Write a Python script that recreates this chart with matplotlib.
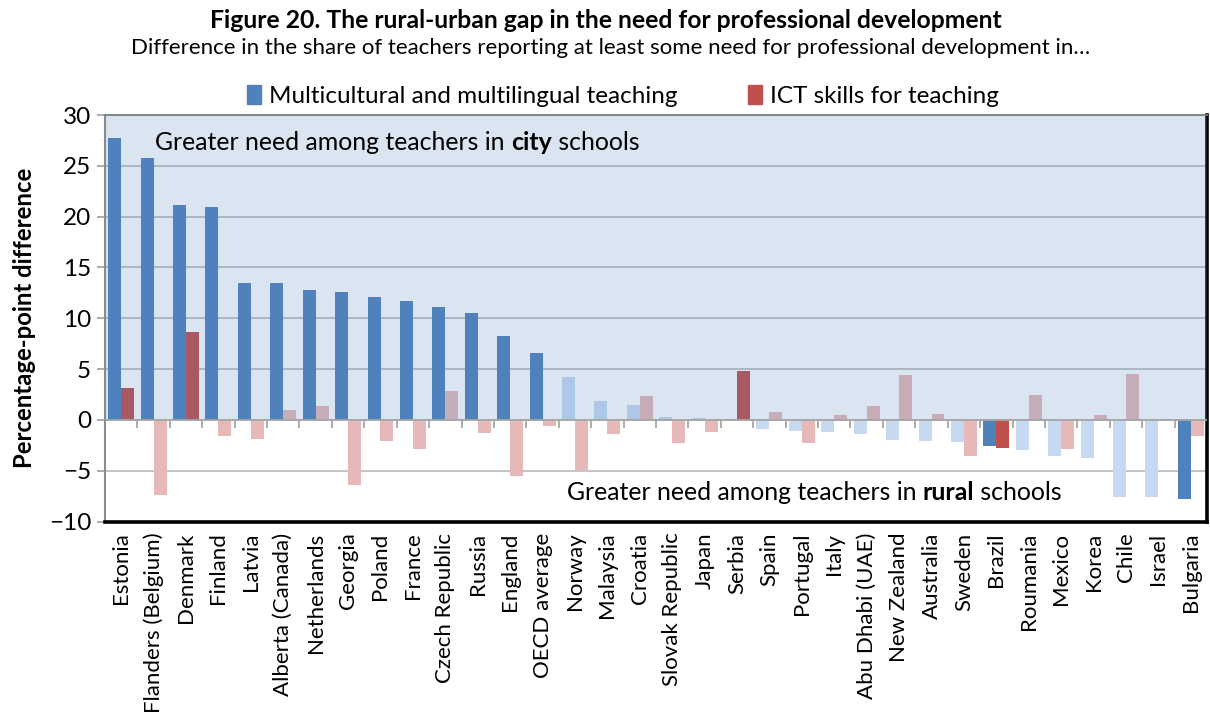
"""Rural-urban gap in the need for professional development (Figure 20)."""

import matplotlib

matplotlib.use("Agg")
import matplotlib.pyplot as plt
import numpy as np

plt.rcParams["font.family"] = ["Lato", "DejaVu Sans"]

COUNTRIES = [
    "Estonia", "Flanders (Belgium)", "Denmark", "Finland", "Latvia",
    "Alberta (Canada)", "Netherlands", "Georgia", "Poland", "France",
    "Czech Republic", "Russia", "England", "OECD average", "Norway",
    "Malaysia", "Croatia", "Slovak Republic", "Japan", "Serbia", "Spain",
    "Portugal", "Italy", "Abu Dhabi (UAE)", "New Zealand", "Australia",
    "Sweden", "Brazil", "Roumania", "Mexico", "Korea", "Chile", "Israel",
    "Bulgaria",
]
MULTI = [
    27.7, 25.8, 21.1, 20.95, 13.5, 13.45, 12.8, 12.6, 12.1, 11.7,
    11.1, 10.5, 8.3, 6.6, 4.25, 1.9, 1.5, 0.3, 0.2, 0.0, -0.85,
    -1.05, -1.15, -1.35, -1.95, -2.05, -2.15, -2.6, -3.0, -3.6, -3.8,
    -7.55, -7.55, -7.8,
]
ICT = [
    3.1, -7.4, 8.6, -1.6, -1.85, 1.0, 1.4, -6.4, -2.05, -2.9,
    2.85, -1.25, -5.5, -0.65, -4.9, -1.35, 2.35, -2.25, -1.15, 4.85, 0.8,
    -2.25, 0.5, 1.4, 4.45, 0.6, -3.6, -2.8, 2.45, -2.9, 0.5,
    4.55, 0.0, -1.55,
]
# statistically significant differences are drawn in full colour
MULTI_SIG = [True] * 14 + [False] * 13 + [True] + [False] * 5 + [True]
ICT_SIG = [c in ("Estonia", "Denmark", "Serbia", "Brazil") for c in COUNTRIES]

BLUE, BLUE_LIGHT = "#4F81BD", "#C6D9F1"
RED, RED_LIGHT = "#C0504D", "#E6B9B8"

fig = plt.figure(figsize=(12.1, 7.18), dpi=100)
ax = fig.add_axes([105 / 1210, 1 - 521.5 / 718, 1102 / 1210, 406.5 / 718])

x = np.arange(len(COUNTRIES))
w = 0.4
ax.bar(x - w / 2, MULTI, w, color=[BLUE if s else BLUE_LIGHT for s in MULTI_SIG],
       zorder=2)
ax.bar(x + w / 2, ICT, w, color=[RED if s else RED_LIGHT for s in ICT_SIG],
       zorder=2)

# translucent shading over the "city" half
ax.axhspan(0, 30, color=BLUE, alpha=0.2, lw=0, zorder=3)

ax.set_xlim(-0.5, len(COUNTRIES) - 0.5)
ax.set_ylim(-10, 30)
ax.set_yticks(range(-10, 31, 5))
ax.yaxis.grid(True, color="#BFBFBF", lw=1.3, zorder=0)
ax.set_axisbelow(True)

# zero line with category separators
ax.axhline(0, color="#A6A6A6", lw=1.3, zorder=4)
ax.vlines(x[:-1] + 0.5, -0.8, 0, color="#A6A6A6", lw=1.3, zorder=4)

ax.set_xticks(x)
ax.set_xticklabels(COUNTRIES, rotation=90, fontsize=16, va="top")
ax.tick_params(axis="x", length=0, pad=8)
ax.tick_params(axis="y", labelsize=17.5, length=6, width=1.3, color="#A6A6A6", pad=4)

ax.spines["left"].set_color("#8C8C8C")
ax.spines["left"].set_linewidth(1.5)
ax.spines["top"].set_color("#7F7F7F")
ax.spines["top"].set_linewidth(1.3)
for side in ("right", "bottom"):
    ax.spines[side].set_color("black")
    ax.spines[side].set_linewidth(2.6)

ax.set_ylabel("Percentage-point difference", fontsize=17.2, fontweight="bold",
              labelpad=9)


def mixed(xpos, ypos, word):
    t1 = ax.text(xpos, ypos, "Greater need among teachers in ", fontsize=17.9,
                 va="center", zorder=5)
    t2 = ax.annotate(word, xycoords=t1, xy=(1, 0), va="bottom", fontsize=17.9,
                     fontweight="bold", zorder=5)
    ax.annotate(" schools", xycoords=t2, xy=(1, 0), va="bottom", fontsize=17.9,
                zorder=5)


mixed(1.05, 27.3, "city")
mixed(13.75, -7.1, "rural")

fig.text(0.501, 1 - 20 / 718,
         "Figure 20. The rural-urban gap in the need for professional development",
         ha="center", va="center", fontsize=17.8, fontweight="bold")
fig.text(0.505, 1 - 48 / 718,
         "Difference in the share of teachers reporting at least some need for "
         "professional development in\u2026",
         ha="center", va="center", fontsize=16)

handles = [plt.Rectangle((0, 0), 1, 1, color=BLUE), plt.Rectangle((0, 0), 1, 1, color=RED)]
fig.legend(handles, ["Multicultural and multilingual teaching", "ICT skills for teaching"],
           loc="center", bbox_to_anchor=(0.515, 1 - 96 / 718), ncol=2, frameon=False,
           fontsize=17.5, handlelength=0.55, handleheight=0.8, handletextpad=0.35,
           columnspacing=2.9)

fig.savefig("out.png", dpi=100)
